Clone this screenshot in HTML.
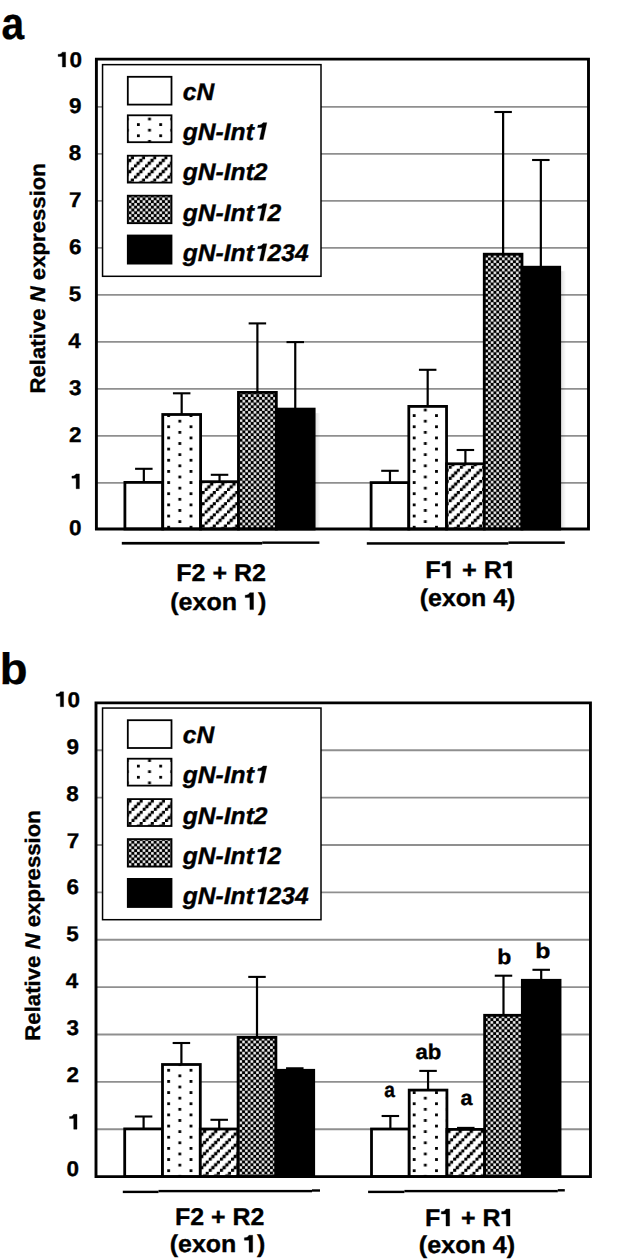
<!DOCTYPE html>
<html><head><meta charset="utf-8"><style>
html,body{margin:0;padding:0;background:#fff;width:643px;height:1260px;overflow:hidden}
svg{display:block}
polygon{stroke:#000;stroke-width:0.35px;stroke-linejoin:round}
text{font-family:"Liberation Sans",sans-serif;font-weight:bold;stroke:#000;stroke-width:0.35px;font-kerning:none;font-variant-ligatures:none;text-rendering:geometricPrecision}
</style></head><body>
<svg width="643" height="1260" viewBox="0 0 643 1260">
<defs><linearGradient id="shd" x1="0" x2="1" y1="0" y2="0"><stop offset="0" stop-color="#000" stop-opacity="0.12"/><stop offset="1" stop-color="#000" stop-opacity="0"/></linearGradient></defs>
<rect width="643" height="1260" fill="#fff"/>
<pattern id="dotsa" patternUnits="userSpaceOnUse" x="11" y="414.2" width="22.32" height="11.16"><rect width="22.32" height="11.16" fill="#fff"/><rect x="0" y="0" width="2.8" height="2.8" fill="#000"/><rect x="11.16" y="5.58" width="2.8" height="2.8" fill="#000"/></pattern><pattern id="hatcha" patternUnits="userSpaceOnUse" x="2.9" y="0" width="11.16" height="11.16"><rect width="11.16" height="11.16" fill="#fff"/><rect x="-3.04" y="10.91" width="3.3" height="3.3" fill="#000"/><rect x="-0.25" y="8.12" width="3.3" height="3.3" fill="#000"/><rect x="2.54" y="5.33" width="3.3" height="3.3" fill="#000"/><rect x="5.33" y="2.54" width="3.3" height="3.3" fill="#000"/><rect x="8.12" y="-0.25" width="3.3" height="3.3" fill="#000"/><rect x="10.91" y="-3.04" width="3.3" height="3.3" fill="#000"/></pattern><pattern id="checka" patternUnits="userSpaceOnUse" x="-0.3" y="0.8" width="5.58" height="5.58"><rect width="5.58" height="5.58" fill="#000"/><rect x="0.15" y="0.15" width="2.5" height="2.5" fill="#fff"/><rect x="2.94" y="2.94" width="2.5" height="2.5" fill="#fff"/></pattern><pattern id="ldotsa" patternUnits="userSpaceOnUse" x="136.95" y="123.2" width="22.32" height="11.16"><rect width="22.32" height="11.16" fill="#fff"/><rect x="0" y="0" width="2.8" height="2.8" fill="#000"/><rect x="11.16" y="5.58" width="2.8" height="2.8" fill="#000"/></pattern><pattern id="lhatcha" patternUnits="userSpaceOnUse" x="0" y="0" width="11.16" height="11.16"><rect width="11.16" height="11.16" fill="#fff"/><rect x="-3.04" y="10.91" width="3.3" height="3.3" fill="#000"/><rect x="-0.25" y="8.12" width="3.3" height="3.3" fill="#000"/><rect x="2.54" y="5.33" width="3.3" height="3.3" fill="#000"/><rect x="5.33" y="2.54" width="3.3" height="3.3" fill="#000"/><rect x="8.12" y="-0.25" width="3.3" height="3.3" fill="#000"/><rect x="10.91" y="-3.04" width="3.3" height="3.3" fill="#000"/></pattern><pattern id="lchecka" patternUnits="userSpaceOnUse" x="-2.5" y="-0.7" width="5.58" height="5.58"><rect width="5.58" height="5.58" fill="#000"/><rect x="0.15" y="0.15" width="2.5" height="2.5" fill="#fff"/><rect x="2.94" y="2.94" width="2.5" height="2.5" fill="#fff"/></pattern>
<line x1="96.4" y1="482.81" x2="588.5" y2="482.81" stroke="#8f8f8f" stroke-width="1.8"/>
<line x1="96.4" y1="435.82" x2="588.5" y2="435.82" stroke="#8f8f8f" stroke-width="1.8"/>
<line x1="96.4" y1="388.83" x2="588.5" y2="388.83" stroke="#8f8f8f" stroke-width="1.8"/>
<line x1="96.4" y1="341.84" x2="588.5" y2="341.84" stroke="#8f8f8f" stroke-width="1.8"/>
<line x1="96.4" y1="294.85" x2="588.5" y2="294.85" stroke="#8f8f8f" stroke-width="1.8"/>
<line x1="96.4" y1="247.86" x2="588.5" y2="247.86" stroke="#8f8f8f" stroke-width="1.8"/>
<line x1="96.4" y1="200.87" x2="588.5" y2="200.87" stroke="#8f8f8f" stroke-width="1.8"/>
<line x1="96.4" y1="153.88" x2="588.5" y2="153.88" stroke="#8f8f8f" stroke-width="1.8"/>
<line x1="96.4" y1="106.89" x2="588.5" y2="106.89" stroke="#8f8f8f" stroke-width="1.8"/>
<rect x="102.55" y="64.65" width="218.45" height="211.65" fill="#fff" stroke="#000" stroke-width="1.5"/>
<rect x="127.8" y="76.8" width="43.7" height="27.8" fill="#fff" stroke="#000" stroke-width="1.8"/>
<rect x="127.8" y="115.3" width="43.7" height="26.9" fill="url(#ldotsa)" stroke="#000" stroke-width="1.8"/>
<rect x="127.8" y="155.7" width="43.7" height="26.9" fill="url(#lhatcha)" stroke="#000" stroke-width="1.8"/>
<rect x="127.8" y="195.7" width="43.7" height="27.5" fill="url(#lchecka)" stroke="#000" stroke-width="1.8"/>
<rect x="127.8" y="235.5" width="43.7" height="28.1" fill="#000" stroke="#000" stroke-width="1.8"/>
<text x="182.78" y="99.9" font-size="24.1" textLength="31.47" lengthAdjust="spacingAndGlyphs"><tspan font-style="italic">cN</tspan></text>
<text x="182.78" y="139.5" font-size="24.1" textLength="84.77" lengthAdjust="spacingAndGlyphs"><tspan font-style="italic">gN-Int </tspan></text><polygon points="266.83,122.65 263.17,139.5 259.57,139.5 262.18,127.51 257.57,127.51 258.09,125.11 259.85,124.97 261.59,124.31 263.13,122.65"/>
<text x="182.78" y="180.2" font-size="24.1" textLength="84.77" lengthAdjust="spacingAndGlyphs"><tspan font-style="italic">gN-Int2</tspan></text>
<text x="182.78" y="220.6" font-size="24.1" textLength="98.46" lengthAdjust="spacingAndGlyphs"><tspan font-style="italic">gN-Int 2</tspan></text><polygon points="266.83,203.75 263.17,220.6 259.57,220.6 262.18,208.61 257.57,208.61 258.09,206.21 259.85,206.07 261.59,205.41 263.13,203.75"/>
<text x="182.78" y="260.7" font-size="24.1" textLength="125.84" lengthAdjust="spacingAndGlyphs"><tspan font-style="italic">gN-Int 234</tspan></text><polygon points="266.83,243.85 263.17,260.7 259.57,260.7 262.18,248.71 257.57,248.71 258.09,246.31 259.85,246.17 261.59,245.51 263.13,243.85"/>
<pattern id="hatcha0" patternUnits="userSpaceOnUse" x="3.8" y="0" width="11.16" height="11.16"><rect width="11.16" height="11.16" fill="#fff"/><rect x="-3.04" y="10.91" width="3.3" height="3.3" fill="#000"/><rect x="-0.25" y="8.12" width="3.3" height="3.3" fill="#000"/><rect x="2.54" y="5.33" width="3.3" height="3.3" fill="#000"/><rect x="5.33" y="2.54" width="3.3" height="3.3" fill="#000"/><rect x="8.12" y="-0.25" width="3.3" height="3.3" fill="#000"/><rect x="10.91" y="-3.04" width="3.3" height="3.3" fill="#000"/></pattern>
<rect x="315.57" y="413.1" width="5" height="115.9" fill="url(#shd)"/>
<line x1="143.83" y1="482.4" x2="143.83" y2="468.8" stroke="#000" stroke-width="2.2"/>
<line x1="135.08" y1="468.8" x2="152.58" y2="468.8" stroke="#000" stroke-width="2.1"/>
<line x1="181.68" y1="414.5" x2="181.68" y2="393.3" stroke="#000" stroke-width="2.2"/>
<line x1="172.93" y1="393.3" x2="190.43" y2="393.3" stroke="#000" stroke-width="2.1"/>
<line x1="219.54" y1="481.7" x2="219.54" y2="474.8" stroke="#000" stroke-width="2.2"/>
<line x1="210.79" y1="474.8" x2="228.29" y2="474.8" stroke="#000" stroke-width="2.1"/>
<line x1="257.39" y1="392.4" x2="257.39" y2="323.4" stroke="#000" stroke-width="2.2"/>
<line x1="248.64" y1="323.4" x2="266.14" y2="323.4" stroke="#000" stroke-width="2.1"/>
<line x1="295.25" y1="409.1" x2="295.25" y2="342.1" stroke="#000" stroke-width="2.2"/>
<line x1="286.5" y1="342.1" x2="304" y2="342.1" stroke="#000" stroke-width="2.1"/>
<rect x="124.9" y="482.4" width="37.85" height="46.6" fill="#fff" stroke="#000" stroke-width="2.8"/>
<rect x="162.75" y="414.5" width="37.85" height="114.5" fill="url(#dotsa)" stroke="#000" stroke-width="2.8"/>
<rect x="200.61" y="481.7" width="37.85" height="47.3" fill="url(#hatcha0)" stroke="#000" stroke-width="2.8"/>
<rect x="238.47" y="392.4" width="37.85" height="136.6" fill="url(#checka)" stroke="#000" stroke-width="2.8"/>
<rect x="276.32" y="409.1" width="37.85" height="119.9" fill="#000" stroke="#000" stroke-width="2.8"/>
<pattern id="hatcha1" patternUnits="userSpaceOnUse" x="2.3" y="0" width="11.16" height="11.16"><rect width="11.16" height="11.16" fill="#fff"/><rect x="-3.04" y="10.91" width="3.3" height="3.3" fill="#000"/><rect x="-0.25" y="8.12" width="3.3" height="3.3" fill="#000"/><rect x="2.54" y="5.33" width="3.3" height="3.3" fill="#000"/><rect x="5.33" y="2.54" width="3.3" height="3.3" fill="#000"/><rect x="8.12" y="-0.25" width="3.3" height="3.3" fill="#000"/><rect x="10.91" y="-3.04" width="3.3" height="3.3" fill="#000"/></pattern>
<rect x="561.1" y="271.2" width="5" height="257.8" fill="url(#shd)"/>
<line x1="389.96" y1="482.6" x2="389.96" y2="470.8" stroke="#000" stroke-width="2.2"/>
<line x1="381.21" y1="470.8" x2="398.71" y2="470.8" stroke="#000" stroke-width="2.1"/>
<line x1="427.68" y1="406.4" x2="427.68" y2="369.8" stroke="#000" stroke-width="2.2"/>
<line x1="418.93" y1="369.8" x2="436.43" y2="369.8" stroke="#000" stroke-width="2.1"/>
<line x1="465.4" y1="463.8" x2="465.4" y2="450" stroke="#000" stroke-width="2.2"/>
<line x1="456.65" y1="450" x2="474.15" y2="450" stroke="#000" stroke-width="2.1"/>
<line x1="503.12" y1="254.2" x2="503.12" y2="112" stroke="#000" stroke-width="2.2"/>
<line x1="494.37" y1="112" x2="511.87" y2="112" stroke="#000" stroke-width="2.1"/>
<line x1="540.84" y1="267.2" x2="540.84" y2="160" stroke="#000" stroke-width="2.2"/>
<line x1="532.09" y1="160" x2="549.59" y2="160" stroke="#000" stroke-width="2.1"/>
<rect x="371.1" y="482.6" width="37.72" height="46.4" fill="#fff" stroke="#000" stroke-width="2.8"/>
<rect x="408.82" y="406.4" width="37.72" height="122.6" fill="url(#dotsa)" stroke="#000" stroke-width="2.8"/>
<rect x="446.54" y="463.8" width="37.72" height="65.2" fill="url(#hatcha1)" stroke="#000" stroke-width="2.8"/>
<rect x="484.26" y="254.2" width="37.72" height="274.8" fill="url(#checka)" stroke="#000" stroke-width="2.8"/>
<rect x="521.98" y="267.2" width="37.72" height="261.8" fill="#000" stroke="#000" stroke-width="2.8"/>
<path d="M96.4 529V59.1H588.5V529Z" fill="none" stroke="#000" stroke-width="2.9"/>
<text x="69.02" y="534.9" font-size="21.2" textLength="12.5" lengthAdjust="spacingAndGlyphs"><tspan>0</tspan></text>
<text x="70.91" y="488.71" font-size="21.2" textLength="12.5" lengthAdjust="spacingAndGlyphs"><tspan> </tspan></text><polygon points="79.4,473.88 79.4,488.71 76.12,488.71 76.12,478.16 71.92,478.16 71.92,476.06 73.49,475.93 74.95,475.35 76.03,473.88"/>
<text x="69" y="441.72" font-size="21.2" textLength="12.5" lengthAdjust="spacingAndGlyphs"><tspan>2</tspan></text>
<text x="68.91" y="394.73" font-size="21.2" textLength="12.5" lengthAdjust="spacingAndGlyphs"><tspan>3</tspan></text>
<text x="68.22" y="347.74" font-size="21.2" textLength="12.5" lengthAdjust="spacingAndGlyphs"><tspan>4</tspan></text>
<text x="68.73" y="300.75" font-size="21.2" textLength="12.5" lengthAdjust="spacingAndGlyphs"><tspan>5</tspan></text>
<text x="68.91" y="253.76" font-size="21.2" textLength="12.5" lengthAdjust="spacingAndGlyphs"><tspan>6</tspan></text>
<text x="69.09" y="206.77" font-size="21.2" textLength="12.5" lengthAdjust="spacingAndGlyphs"><tspan>7</tspan></text>
<text x="68.79" y="159.78" font-size="21.2" textLength="12.5" lengthAdjust="spacingAndGlyphs"><tspan>8</tspan></text>
<text x="68.94" y="113.19" font-size="21.2" textLength="12.5" lengthAdjust="spacingAndGlyphs"><tspan>9</tspan></text>
<text x="57.13" y="67" font-size="21.2" textLength="25" lengthAdjust="spacingAndGlyphs"><tspan> 0</tspan></text><polygon points="65.62,52.17 65.62,67 62.34,67 62.34,56.45 58.14,56.45 58.14,54.35 59.71,54.22 61.17,53.64 62.25,52.17"/>
<g transform="translate(44.9,392) rotate(-90)"><text x="-1.48" y="0" font-size="21.2" textLength="230.36" lengthAdjust="spacingAndGlyphs"><tspan>Relative </tspan><tspan font-style="italic">N</tspan><tspan> expression</tspan></text></g>
<rect x="121.8" y="541.9" width="140.4" height="2.7"/>
<rect x="262.2" y="541.45" width="57.2" height="2.4"/>
<rect x="366.8" y="542.2" width="141.6" height="2.5"/>
<rect x="508.4" y="541.4" width="56.4" height="2.5"/>
<text x="176.33" y="581.3" font-size="24.2" textLength="89.67" lengthAdjust="spacingAndGlyphs"><tspan>F2 + R2</tspan></text>
<text x="170.25" y="609.6" font-size="24.2" textLength="96.1" lengthAdjust="spacingAndGlyphs"><tspan>(exon  )</tspan></text><polygon points="253.54,592.68 253.54,609.6 249.88,609.6 249.88,597.56 245.19,597.56 245.19,595.15 246.94,595.01 248.57,594.34 249.78,592.68"/>
<text x="425.3" y="578.1" font-size="24.2" textLength="90.91" lengthAdjust="spacingAndGlyphs"><tspan>F  + R </tspan></text><polygon points="450.38,561.18 450.38,578.1 446.68,578.1 446.68,566.06 441.94,566.06 441.94,563.65 443.71,563.51 445.36,562.84 446.58,561.18"/><polygon points="511.7,561.18 511.7,578.1 508,578.1 508,566.06 503.26,566.06 503.26,563.65 505.03,563.51 506.68,562.84 507.9,561.18"/>
<text x="419.76" y="605.5" font-size="24.2" textLength="95.69" lengthAdjust="spacingAndGlyphs"><tspan>(exon 4)</tspan></text>
<text x="1.51" y="39.4" font-size="45" textLength="22.63" lengthAdjust="spacingAndGlyphs"><tspan>a</tspan></text>
<pattern id="dotsb" patternUnits="userSpaceOnUse" x="11" y="1057.7" width="22.32" height="11.16"><rect width="22.32" height="11.16" fill="#fff"/><rect x="0" y="0" width="2.8" height="2.8" fill="#000"/><rect x="11.16" y="5.58" width="2.8" height="2.8" fill="#000"/></pattern><pattern id="hatchb" patternUnits="userSpaceOnUse" x="-4.4" y="0" width="11.16" height="11.16"><rect width="11.16" height="11.16" fill="#fff"/><rect x="-3.04" y="10.91" width="3.3" height="3.3" fill="#000"/><rect x="-0.25" y="8.12" width="3.3" height="3.3" fill="#000"/><rect x="2.54" y="5.33" width="3.3" height="3.3" fill="#000"/><rect x="5.33" y="2.54" width="3.3" height="3.3" fill="#000"/><rect x="8.12" y="-0.25" width="3.3" height="3.3" fill="#000"/><rect x="10.91" y="-3.04" width="3.3" height="3.3" fill="#000"/></pattern><pattern id="checkb" patternUnits="userSpaceOnUse" x="-0.6" y="-0.1" width="5.58" height="5.58"><rect width="5.58" height="5.58" fill="#000"/><rect x="0.15" y="0.15" width="2.5" height="2.5" fill="#fff"/><rect x="2.94" y="2.94" width="2.5" height="2.5" fill="#fff"/></pattern><pattern id="ldotsb" patternUnits="userSpaceOnUse" x="136.95" y="764.7" width="22.32" height="11.16"><rect width="22.32" height="11.16" fill="#fff"/><rect x="0" y="0" width="2.8" height="2.8" fill="#000"/><rect x="11.16" y="5.58" width="2.8" height="2.8" fill="#000"/></pattern><pattern id="lhatchb" patternUnits="userSpaceOnUse" x="-2.4" y="643.4" width="11.16" height="11.16"><rect width="11.16" height="11.16" fill="#fff"/><rect x="-3.04" y="10.91" width="3.3" height="3.3" fill="#000"/><rect x="-0.25" y="8.12" width="3.3" height="3.3" fill="#000"/><rect x="2.54" y="5.33" width="3.3" height="3.3" fill="#000"/><rect x="5.33" y="2.54" width="3.3" height="3.3" fill="#000"/><rect x="8.12" y="-0.25" width="3.3" height="3.3" fill="#000"/><rect x="10.91" y="-3.04" width="3.3" height="3.3" fill="#000"/></pattern><pattern id="lcheckb" patternUnits="userSpaceOnUse" x="-2.5" y="642.7" width="5.58" height="5.58"><rect width="5.58" height="5.58" fill="#000"/><rect x="0.15" y="0.15" width="2.5" height="2.5" fill="#fff"/><rect x="2.94" y="2.94" width="2.5" height="2.5" fill="#fff"/></pattern>
<line x1="96" y1="1129.23" x2="590.45" y2="1129.23" stroke="#8f8f8f" stroke-width="1.8"/>
<line x1="96" y1="1081.86" x2="590.45" y2="1081.86" stroke="#8f8f8f" stroke-width="1.8"/>
<line x1="96" y1="1034.49" x2="590.45" y2="1034.49" stroke="#8f8f8f" stroke-width="1.8"/>
<line x1="96" y1="987.12" x2="590.45" y2="987.12" stroke="#8f8f8f" stroke-width="1.8"/>
<line x1="96" y1="939.75" x2="590.45" y2="939.75" stroke="#8f8f8f" stroke-width="1.8"/>
<line x1="96" y1="892.38" x2="590.45" y2="892.38" stroke="#8f8f8f" stroke-width="1.8"/>
<line x1="96" y1="845.01" x2="590.45" y2="845.01" stroke="#8f8f8f" stroke-width="1.8"/>
<line x1="96" y1="797.64" x2="590.45" y2="797.64" stroke="#8f8f8f" stroke-width="1.8"/>
<line x1="96" y1="750.27" x2="590.45" y2="750.27" stroke="#8f8f8f" stroke-width="1.8"/>
<rect x="102.55" y="708.05" width="218.45" height="211.65" fill="#fff" stroke="#000" stroke-width="1.5"/>
<rect x="127.8" y="720.2" width="43.7" height="27.8" fill="#fff" stroke="#000" stroke-width="1.8"/>
<rect x="127.8" y="758.7" width="43.7" height="26.9" fill="url(#ldotsb)" stroke="#000" stroke-width="1.8"/>
<rect x="127.8" y="799.1" width="43.7" height="26.9" fill="url(#lhatchb)" stroke="#000" stroke-width="1.8"/>
<rect x="127.8" y="839.1" width="43.7" height="27.5" fill="url(#lcheckb)" stroke="#000" stroke-width="1.8"/>
<rect x="127.8" y="878.9" width="43.7" height="28.1" fill="#000" stroke="#000" stroke-width="1.8"/>
<text x="182.78" y="743.2" font-size="24.1" textLength="31.47" lengthAdjust="spacingAndGlyphs"><tspan font-style="italic">cN</tspan></text>
<text x="182.78" y="782.8" font-size="24.1" textLength="84.77" lengthAdjust="spacingAndGlyphs"><tspan font-style="italic">gN-Int </tspan></text><polygon points="266.83,765.95 263.17,782.8 259.57,782.8 262.18,770.81 257.57,770.81 258.09,768.41 259.85,768.27 261.59,767.61 263.13,765.95"/>
<text x="182.78" y="823.5" font-size="24.1" textLength="84.77" lengthAdjust="spacingAndGlyphs"><tspan font-style="italic">gN-Int2</tspan></text>
<text x="182.78" y="863.9" font-size="24.1" textLength="98.46" lengthAdjust="spacingAndGlyphs"><tspan font-style="italic">gN-Int 2</tspan></text><polygon points="266.83,847.05 263.17,863.9 259.57,863.9 262.18,851.91 257.57,851.91 258.09,849.51 259.85,849.37 261.59,848.71 263.13,847.05"/>
<text x="182.78" y="904" font-size="24.1" textLength="125.84" lengthAdjust="spacingAndGlyphs"><tspan font-style="italic">gN-Int 234</tspan></text><polygon points="266.83,887.15 263.17,904 259.57,904 262.18,892.01 257.57,892.01 258.09,889.61 259.85,889.47 261.59,888.81 263.13,887.15"/>
<pattern id="hatchb0" patternUnits="userSpaceOnUse" x="7.86" y="0" width="11.16" height="11.16"><rect width="11.16" height="11.16" fill="#fff"/><rect x="-3.04" y="10.91" width="3.3" height="3.3" fill="#000"/><rect x="-0.25" y="8.12" width="3.3" height="3.3" fill="#000"/><rect x="2.54" y="5.33" width="3.3" height="3.3" fill="#000"/><rect x="5.33" y="2.54" width="3.3" height="3.3" fill="#000"/><rect x="8.12" y="-0.25" width="3.3" height="3.3" fill="#000"/><rect x="10.91" y="-3.04" width="3.3" height="3.3" fill="#000"/></pattern>
<line x1="143.6" y1="1128.9" x2="143.6" y2="1116.5" stroke="#000" stroke-width="2.2"/>
<line x1="134.85" y1="1116.5" x2="152.35" y2="1116.5" stroke="#000" stroke-width="2.1"/>
<line x1="181.4" y1="1064.5" x2="181.4" y2="1043" stroke="#000" stroke-width="2.2"/>
<line x1="172.65" y1="1043" x2="190.15" y2="1043" stroke="#000" stroke-width="2.1"/>
<line x1="219.2" y1="1129" x2="219.2" y2="1119.8" stroke="#000" stroke-width="2.2"/>
<line x1="210.45" y1="1119.8" x2="227.95" y2="1119.8" stroke="#000" stroke-width="2.1"/>
<line x1="257" y1="1037.4" x2="257" y2="976.9" stroke="#000" stroke-width="2.2"/>
<line x1="248.25" y1="976.9" x2="265.75" y2="976.9" stroke="#000" stroke-width="2.1"/>
<line x1="294.8" y1="1070.3" x2="294.8" y2="1068.3" stroke="#000" stroke-width="2.2"/>
<line x1="286.05" y1="1068.3" x2="303.55" y2="1068.3" stroke="#000" stroke-width="2.1"/>
<rect x="124.7" y="1128.9" width="37.8" height="47.7" fill="#fff" stroke="#000" stroke-width="2.8"/>
<rect x="162.5" y="1064.5" width="37.8" height="112.1" fill="url(#dotsb)" stroke="#000" stroke-width="2.8"/>
<rect x="200.3" y="1129" width="37.8" height="47.6" fill="url(#hatchb0)" stroke="#000" stroke-width="2.8"/>
<rect x="238.1" y="1037.4" width="37.8" height="139.2" fill="url(#checkb)" stroke="#000" stroke-width="2.8"/>
<rect x="275.9" y="1070.3" width="37.8" height="106.3" fill="#000" stroke="#000" stroke-width="2.8"/>
<pattern id="hatchb1" patternUnits="userSpaceOnUse" x="6.76" y="0" width="11.16" height="11.16"><rect width="11.16" height="11.16" fill="#fff"/><rect x="-3.04" y="10.91" width="3.3" height="3.3" fill="#000"/><rect x="-0.25" y="8.12" width="3.3" height="3.3" fill="#000"/><rect x="2.54" y="5.33" width="3.3" height="3.3" fill="#000"/><rect x="5.33" y="2.54" width="3.3" height="3.3" fill="#000"/><rect x="8.12" y="-0.25" width="3.3" height="3.3" fill="#000"/><rect x="10.91" y="-3.04" width="3.3" height="3.3" fill="#000"/></pattern>
<line x1="390.36" y1="1129" x2="390.36" y2="1116" stroke="#000" stroke-width="2.2"/>
<line x1="381.61" y1="1116" x2="399.11" y2="1116" stroke="#000" stroke-width="2.1"/>
<line x1="428.06" y1="1090.1" x2="428.06" y2="1070.9" stroke="#000" stroke-width="2.2"/>
<line x1="419.31" y1="1070.9" x2="436.81" y2="1070.9" stroke="#000" stroke-width="2.1"/>
<line x1="465.78" y1="1129.4" x2="465.78" y2="1127.9" stroke="#000" stroke-width="2.2"/>
<line x1="457.03" y1="1127.9" x2="474.53" y2="1127.9" stroke="#000" stroke-width="2.1"/>
<line x1="503.49" y1="1015.3" x2="503.49" y2="975.7" stroke="#000" stroke-width="2.2"/>
<line x1="494.74" y1="975.7" x2="512.24" y2="975.7" stroke="#000" stroke-width="2.1"/>
<line x1="541.2" y1="980.3" x2="541.2" y2="969.8" stroke="#000" stroke-width="2.2"/>
<line x1="532.45" y1="969.8" x2="549.95" y2="969.8" stroke="#000" stroke-width="2.1"/>
<rect x="371.5" y="1129" width="37.71" height="47.6" fill="#fff" stroke="#000" stroke-width="2.8"/>
<rect x="409.21" y="1090.1" width="37.71" height="86.5" fill="url(#dotsb)" stroke="#000" stroke-width="2.8"/>
<rect x="446.92" y="1129.4" width="37.71" height="47.2" fill="url(#hatchb1)" stroke="#000" stroke-width="2.8"/>
<rect x="484.63" y="1015.3" width="37.71" height="161.3" fill="url(#checkb)" stroke="#000" stroke-width="2.8"/>
<rect x="522.34" y="980.3" width="37.71" height="196.3" fill="#000" stroke="#000" stroke-width="2.8"/>
<path d="M96 1176.6V702.9H590.45V1176.6Z" fill="none" stroke="#000" stroke-width="2.9"/>
<text x="66.62" y="1176.1" font-size="21.2" textLength="12.5" lengthAdjust="spacingAndGlyphs"><tspan>0</tspan></text>
<text x="68.51" y="1129.16" font-size="21.2" textLength="12.5" lengthAdjust="spacingAndGlyphs"><tspan> </tspan></text><polygon points="77,1114.33 77,1129.16 73.72,1129.16 73.72,1118.61 69.52,1118.61 69.52,1116.51 71.09,1116.38 72.55,1115.8 73.63,1114.33"/>
<text x="66.6" y="1082.22" font-size="21.2" textLength="12.5" lengthAdjust="spacingAndGlyphs"><tspan>2</tspan></text>
<text x="66.51" y="1035.28" font-size="21.2" textLength="12.5" lengthAdjust="spacingAndGlyphs"><tspan>3</tspan></text>
<text x="65.82" y="988.34" font-size="21.2" textLength="12.5" lengthAdjust="spacingAndGlyphs"><tspan>4</tspan></text>
<text x="66.33" y="941.4" font-size="21.2" textLength="12.5" lengthAdjust="spacingAndGlyphs"><tspan>5</tspan></text>
<text x="66.51" y="894.46" font-size="21.2" textLength="12.5" lengthAdjust="spacingAndGlyphs"><tspan>6</tspan></text>
<text x="66.69" y="847.52" font-size="21.2" textLength="12.5" lengthAdjust="spacingAndGlyphs"><tspan>7</tspan></text>
<text x="66.39" y="800.58" font-size="21.2" textLength="12.5" lengthAdjust="spacingAndGlyphs"><tspan>8</tspan></text>
<text x="66.54" y="753.64" font-size="21.2" textLength="12.5" lengthAdjust="spacingAndGlyphs"><tspan>9</tspan></text>
<text x="55.13" y="706.7" font-size="21.2" textLength="25" lengthAdjust="spacingAndGlyphs"><tspan> 0</tspan></text><polygon points="63.62,691.87 63.62,706.7 60.34,706.7 60.34,696.15 56.14,696.15 56.14,694.05 57.71,693.92 59.17,693.34 60.25,691.87"/>
<g transform="translate(39.9,1039.2) rotate(-90)"><text x="-1.48" y="0" font-size="21.2" textLength="230.56" lengthAdjust="spacingAndGlyphs"><tspan>Relative </tspan><tspan font-style="italic">N</tspan><tspan> expression</tspan></text></g>
<rect x="122.8" y="1190.7" width="35.7" height="2.4"/>
<rect x="158.5" y="1189.9" width="153.5" height="2.4"/>
<rect x="312" y="1189.3" width="8" height="2.4"/>
<rect x="368.1" y="1190.7" width="36.3" height="2.4"/>
<rect x="404.4" y="1189.9" width="153.4" height="2.4"/>
<rect x="557.8" y="1189.1" width="7" height="2.4"/>
<text x="174.93" y="1224.8" font-size="24.2" textLength="89.47" lengthAdjust="spacingAndGlyphs"><tspan>F2 + R2</tspan></text>
<text x="169.76" y="1252.2" font-size="24.2" textLength="95.69" lengthAdjust="spacingAndGlyphs"><tspan>(exon  )</tspan></text><polygon points="252.69,1235.28 252.69,1252.2 249.04,1252.2 249.04,1240.16 244.38,1240.16 244.38,1237.75 246.12,1237.61 247.74,1236.94 248.94,1235.28"/>
<text x="424.93" y="1226" font-size="24.2" textLength="89.52" lengthAdjust="spacingAndGlyphs"><tspan>F  + R </tspan></text><polygon points="449.62,1209.08 449.62,1226 445.98,1226 445.98,1213.96 441.31,1213.96 441.31,1211.55 443.05,1211.41 444.68,1210.74 445.88,1209.08"/><polygon points="510,1209.08 510,1226 506.35,1226 506.35,1213.96 501.68,1213.96 501.68,1211.55 503.43,1211.41 505.06,1210.74 506.25,1209.08"/>
<text x="418.85" y="1252.7" font-size="24.2" textLength="96.3" lengthAdjust="spacingAndGlyphs"><tspan>(exon 4)</tspan></text>
<text x="-0.3" y="684.2" font-size="44" textLength="27.76" lengthAdjust="spacingAndGlyphs"><tspan>b</tspan></text>
<text x="384.14" y="1096.5" font-size="21" textLength="10.64" lengthAdjust="spacingAndGlyphs"><tspan>a</tspan></text>
<text x="415.55" y="1059" font-size="21" textLength="25.86" lengthAdjust="spacingAndGlyphs"><tspan>ab</tspan></text>
<text x="460.57" y="1104.7" font-size="21" textLength="11.99" lengthAdjust="spacingAndGlyphs"><tspan>a</tspan></text>
<text x="497.38" y="964.2" font-size="21" textLength="14.06" lengthAdjust="spacingAndGlyphs"><tspan>b</tspan></text>
<text x="535.16" y="958.3" font-size="21" textLength="15.15" lengthAdjust="spacingAndGlyphs"><tspan>b</tspan></text>
</svg>
</body></html>
